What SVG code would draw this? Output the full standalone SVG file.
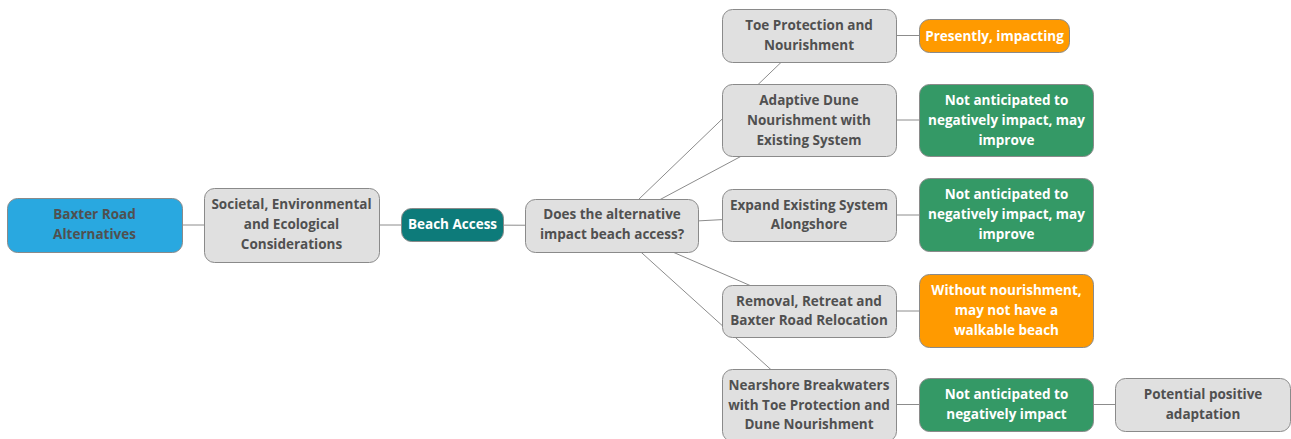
<svg xmlns="http://www.w3.org/2000/svg" width="1291" height="439" viewBox="0 0 1291 439">
  <style>
    .box { stroke: #8a8a8a; stroke-width: 1; }
    .gray { fill: #e0e0e0; }
    .blue { fill: #29a8e0; }
    .teal { fill: #0d7b7a; }
    .green { fill: #349966; }
    .orange { fill: #ff9a00; }
    text { font-family: "Open Sans", "Noto Sans", sans-serif; font-weight: 700; font-size: 13.5px; text-anchor: middle; }
    .dark { fill: #505050; }
    .light { fill: #ffffff; }
    .edge { stroke: #8c8c8c; stroke-width: 1; fill: none; }
  </style>
  <rect width="1291" height="439" fill="#ffffff"/>

  <!-- connectors run centre to centre, nodes are drawn on top -->
  <g id="connectors">
    <line class="edge" x1="94.5" y1="225" x2="291.5" y2="225"/>
    <line class="edge" x1="291.5" y1="225" x2="452" y2="225"/>
    <line class="edge" x1="452" y1="225" x2="611.5" y2="225.5"/>
    <line class="edge" x1="611.5" y1="225.5" x2="809" y2="35.5"/>
    <line class="edge" x1="611.5" y1="225.5" x2="809" y2="120"/>
    <line class="edge" x1="611.5" y1="225.5" x2="809" y2="215"/>
    <line class="edge" x1="611.5" y1="225.5" x2="809" y2="311"/>
    <line class="edge" x1="611.5" y1="225.5" x2="809" y2="404"/>
    <line class="edge" x1="809" y1="35.5" x2="994" y2="35.5"/>
    <line class="edge" x1="809" y1="120" x2="1006" y2="120"/>
    <line class="edge" x1="809" y1="215" x2="1006" y2="215"/>
    <line class="edge" x1="809" y1="311" x2="1006" y2="311"/>
    <line class="edge" x1="809" y1="404.5" x2="1202" y2="404.5"/>
  </g>

  <g id="baxter-road">
    <rect class="box blue" x="7.5" y="198.5" width="175" height="54" rx="10"/>
    <text class="dark" x="94.5" y="218.5">Baxter Road</text>
    <text class="dark" x="94.5" y="238.5">Alternatives</text>
  </g>

  <g id="considerations">
    <rect class="box gray" x="204.5" y="188.5" width="175" height="74" rx="10"/>
    <text class="dark" x="291.5" y="208.5">Societal, Environmental</text>
    <text class="dark" x="291.5" y="228.5">and Ecological</text>
    <text class="dark" x="291.5" y="248.5">Considerations</text>
  </g>

  <g id="beach-access">
    <rect class="box teal" x="401.5" y="208.5" width="102" height="33" rx="10"/>
    <text class="light" x="452.5" y="229">Beach Access</text>
  </g>

  <g id="question">
    <rect class="box gray" x="525.5" y="199.5" width="173" height="53" rx="10"/>
    <text class="dark" x="612" y="218.5">Does the alternative</text>
    <text class="dark" x="612" y="238.5">impact beach access?</text>
  </g>

  <g id="toe-protection">
    <rect class="box gray" x="722.5" y="9.5" width="174" height="53" rx="10"/>
    <text class="dark" x="809" y="29.5">Toe Protection and</text>
    <text class="dark" x="809" y="49.5">Nourishment</text>
  </g>

  <g id="adaptive-dune">
    <rect class="box gray" x="722.5" y="84.5" width="174" height="72" rx="10"/>
    <text class="dark" x="809" y="104.5">Adaptive Dune</text>
    <text class="dark" x="809" y="124.5">Nourishment with</text>
    <text class="dark" x="809" y="144.5">Existing System</text>
  </g>

  <g id="expand-system">
    <rect class="box gray" x="722.5" y="189.5" width="174" height="52" rx="10"/>
    <text class="dark" x="809" y="209.5">Expand Existing System</text>
    <text class="dark" x="809" y="228.5">Alongshore</text>
  </g>

  <g id="removal-retreat">
    <rect class="box gray" x="722.5" y="285.5" width="174" height="52" rx="10"/>
    <text class="dark" x="809" y="305.5">Removal, Retreat and</text>
    <text class="dark" x="809" y="324.5">Baxter Road Relocation</text>
  </g>

  <g id="nearshore-breakwaters">
    <rect class="box gray" x="722.5" y="369.5" width="174" height="72" rx="10"/>
    <text class="dark" x="809" y="389.5">Nearshore Breakwaters</text>
    <text class="dark" x="809" y="409.5">with Toe Protection and</text>
    <text class="dark" x="809" y="428.5">Dune Nourishment</text>
  </g>

  <g id="presently-impacting">
    <rect class="box orange" x="919.5" y="19.5" width="150" height="33" rx="10"/>
    <text class="light" x="994.5" y="40.5">Presently, impacting</text>
  </g>

  <g id="outcome-adaptive">
    <rect class="box green" x="919.5" y="84.5" width="174" height="72" rx="10"/>
    <text class="light" x="1006.5" y="104.5">Not anticipated to</text>
    <text class="light" x="1006.5" y="124.5">negatively impact, may</text>
    <text class="light" x="1006.5" y="144.5">improve</text>
  </g>

  <g id="outcome-expand">
    <rect class="box green" x="919.5" y="178.5" width="174" height="73" rx="10"/>
    <text class="light" x="1006.5" y="199">Not anticipated to</text>
    <text class="light" x="1006.5" y="218.5">negatively impact, may</text>
    <text class="light" x="1006.5" y="238.5">improve</text>
  </g>

  <g id="outcome-removal">
    <rect class="box orange" x="919.5" y="274.5" width="174" height="73" rx="10"/>
    <text class="light" x="1006.5" y="294.5">Without nourishment,</text>
    <text class="light" x="1006.5" y="314.5">may not have a</text>
    <text class="light" x="1006.5" y="334.5">walkable beach</text>
  </g>

  <g id="outcome-nearshore">
    <rect class="box green" x="919.5" y="378.5" width="174" height="53" rx="10"/>
    <text class="light" x="1006.5" y="399">Not anticipated to</text>
    <text class="light" x="1006.5" y="419">negatively impact</text>
  </g>

  <g id="positive-adaptation">
    <rect class="box gray" x="1115.5" y="378.5" width="175" height="53" rx="10"/>
    <text class="dark" x="1203" y="399">Potential positive</text>
    <text class="dark" x="1203" y="419">adaptation</text>
  </g>
</svg>
